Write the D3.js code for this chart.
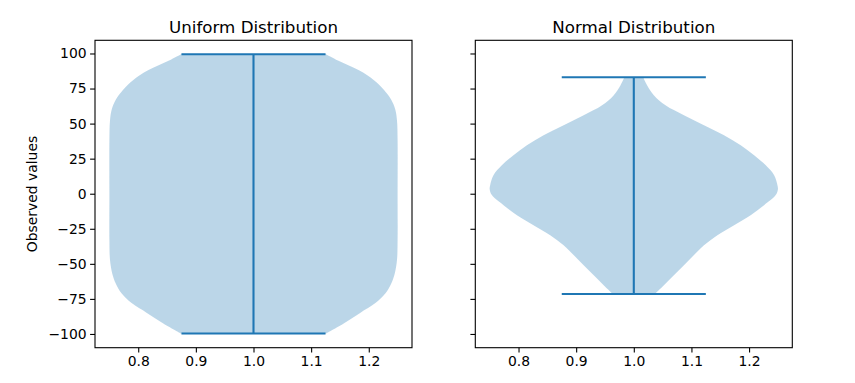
<!DOCTYPE html>
<html>
<head>
<meta charset="utf-8">
<script src="https://cdn.jsdelivr.net/npm/d3@7"></script>
<style>
  body { margin: 0; background: #fff; }
  svg { display: block; font-family: "DejaVu Sans", sans-serif; }
</style>
</head>
<body>
<svg width="855" height="383"></svg>
<script>
// violin outlines: y value -> relative density (1 = widest)
const uniformY = [99.5, 95, 88, 81, 74, 67, 60, 52, 38, 0, -33, -47, -57, -64, -71, -78, -85, -92.6, -99.7];
const uniformD = [0.503, 0.586, 0.732, 0.836, 0.906, 0.956, 0.984, 0.996, 1.0, 1.0, 1.0, 0.996, 0.98, 0.956, 0.916, 0.846, 0.74, 0.626, 0.504];
const uniformMin = -99.7, uniformMax = 99.5;

const normalY = [83.1, 77.4, 70.3, 63.1, 56.0, 48.9, 41.7, 34.6, 27.5, 20.3, 13.2, 6.1, 3, -1, -8.2, -15.3, -22.5, -29.6, -36.7, -43.9, -51, -58.1, -65.3, -71.5];
const normalD = [0.065, 0.092, 0.139, 0.22, 0.348, 0.487, 0.626, 0.742, 0.835, 0.916, 0.974, 0.997, 1.0, 0.985, 0.904, 0.811, 0.696, 0.58, 0.487, 0.416, 0.348, 0.278, 0.209, 0.146];
const normalMin = -71.5, normalMax = 83.1;

const xTicks = [0.8, 0.9, 1.0, 1.1, 1.2];
const yTicks = [-100, -75, -50, -25, 0, 25, 50, 75, 100];

const panels = [
    { title: "Uniform Distribution", ys: uniformY, ds: uniformD, min: uniformMin, max: uniformMax, left: 95, labels: true },
    { title: "Normal Distribution", ys: normalY, ds: normalD, min: normalMin, max: normalMax, left: 475.3, labels: false }
];

const blue = "#1f77b4";
const plotW = 317, plotTop = 40.3, plotBottom = 347.7;
const svg = d3.select("svg");

const y = d3.scaleLinear().domain([-109.8, 109.4]).range([plotBottom, plotTop]);

panels.forEach(p => {
    const x = d3.scaleLinear().domain([0.725, 1.275]).range([p.left, p.left + plotW]);
    const g = svg.append("g");
    const half = 0.25;

    const pts = p.ys.map((v, i) => ({ v: v, d: p.ds[i] }));
    const area = d3.area()
        .y(d => y(d.v))
        .x0(d => x(1 - half * d.d))
        .x1(d => x(1 + half * d.d))
        .curve(d3.curveCatmullRom);

    g.append("path")
        .attr("d", area(pts))
        .attr("fill", blue)
        .attr("fill-opacity", 0.3);

    // caps and bar
    [p.min, p.max].forEach(v => {
        g.append("line")
            .attr("x1", x(0.875)).attr("x2", x(1.125))
            .attr("y1", y(v)).attr("y2", y(v))
            .attr("stroke", blue).attr("stroke-width", 2.1);
    });
    g.append("line")
        .attr("x1", x(1)).attr("x2", x(1))
        .attr("y1", y(p.min)).attr("y2", y(p.max))
        .attr("stroke", blue).attr("stroke-width", 2.1);

    // axes
    const xAxis = d3.axisBottom(x).tickValues(xTicks).tickFormat(d3.format(".1f"))
        .tickSize(4.9).tickPadding(3.5);
    const gx = g.append("g").attr("transform", `translate(0,${plotBottom})`).call(xAxis);

    const yAxis = d3.axisLeft(y).tickValues(yTicks)
        .tickFormat(p.labels ? (d => d < 0 ? "\u2212" + Math.abs(d) : d) : "")
        .tickSize(4.9).tickPadding(3.5);
    const gy = g.append("g").attr("transform", `translate(${p.left},0)`).call(yAxis);

    [gx, gy].forEach(a => {
        a.select(".domain").remove();
        a.selectAll(".tick line").attr("stroke", "#000").attr("stroke-width", 1.1);
        a.selectAll(".tick text").attr("fill", "#000").attr("font-size", "13.9px")
            .attr("font-family", "DejaVu Sans");
    });

    g.append("rect")
        .attr("x", p.left).attr("y", plotTop)
        .attr("width", plotW).attr("height", plotBottom - plotTop)
        .attr("fill", "none").attr("stroke", "#000").attr("stroke-width", 1.1);

    g.append("text")
        .attr("x", p.left + plotW / 2).attr("y", 32.5)
        .attr("text-anchor", "middle")
        .attr("font-size", "16.7px")
        .text(p.title);
});

svg.append("text")
    .attr("transform", `translate(37,${(plotTop + plotBottom) / 2}) rotate(-90)`)
    .attr("text-anchor", "middle")
    .attr("font-size", "13.9px")
    .text("Observed values");
</script>
</body>
</html>
